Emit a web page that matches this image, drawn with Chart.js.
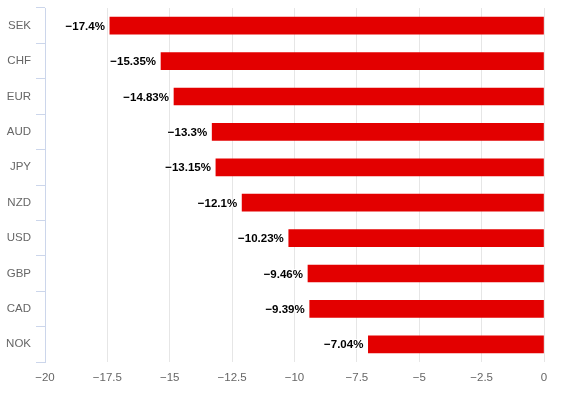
<!DOCTYPE html>
<html>
<head>
<meta charset="utf-8">
<script src="https://cdn.jsdelivr.net/npm/chart.js@4/dist/chart.umd.min.js"></script>
<style>
html, body { margin: 0; padding: 0; background: #fff; }
#wrap { width: 572px; height: 398px; }
</style>
</head>
<body>
<div id="wrap"><canvas id="chart" width="572" height="398"></canvas></div>
<script>
const currencies = ['SEK', 'CHF', 'EUR', 'AUD', 'JPY', 'NZD', 'USD', 'GBP', 'CAD', 'NOK'];
const changes = [-17.4, -15.35, -14.83, -13.3, -13.15, -12.1, -10.23, -9.46, -9.39, -7.04];

const fontFamily = '"Liberation Sans", Arial, sans-serif';
const minus = s => String(s).replace('-', '\u2212');

// etiquetas de valor a la izquierda de cada barra
const valueLabels = {
  id: 'valueLabels',
  afterDatasetsDraw(chart) {
    const ctx = chart.ctx;
    const meta = chart.getDatasetMeta(0);
    ctx.save();
    ctx.font = 'bold 11.5px ' + fontFamily;
    ctx.textAlign = 'right';
    ctx.textBaseline = 'middle';
    ctx.lineJoin = 'round';
    meta.data.forEach((bar, i) => {
      const text = minus(changes[i]) + '%';
      const x = bar.x - 5;
      ctx.lineWidth = 2;
      ctx.strokeStyle = '#ffffff';
      ctx.strokeText(text, x, bar.y + 1);
      ctx.fillStyle = '#000000';
      ctx.fillText(text, x, bar.y + 1);
    });
    ctx.restore();
  }
};

new Chart(document.getElementById('chart').getContext('2d'), {
  type: 'bar',
  data: {
    labels: currencies,
    datasets: [{
      data: changes,
      backgroundColor: '#e30000',
      borderWidth: 0,
      barThickness: 17
    }]
  },
  options: {
    indexAxis: 'y',
    responsive: false,
    animation: false,
    layout: { padding: { top: 8, right: 28, left: 0, bottom: 0 } },
    plugins: {
      legend: { display: false },
      tooltip: { enabled: false }
    },
    scales: {
      x: {
        min: -20,
        max: 0,
        afterFit: s => { s.height = 36; s.paddingLeft = 0; s.paddingRight = 0; },
        ticks: {
          stepSize: 2.5,
          color: '#666666',
          font: { family: fontFamily, size: 11.5 },
          padding: 9,
          maxRotation: 0,
          callback: v => minus(v)
        },
        grid: {
          color: c => c.index === 0 ? 'rgba(0,0,0,0)' : '#e6e6e6',
          drawTicks: false
        },
        border: { display: false }
      },
      y: {
        afterFit: s => { s.width = 45; s.paddingTop = 0; s.paddingBottom = 0; },
        ticks: {
          color: '#666666',
          font: { family: fontFamily, size: 11.5 },
          padding: 5
        },
        grid: { drawOnChartArea: false, color: '#ccd6eb', tickLength: 9, offset: true },
        border: { color: '#ccd6eb' }
      }
    }
  },
  plugins: [valueLabels]
});
</script>
</body>
</html>
